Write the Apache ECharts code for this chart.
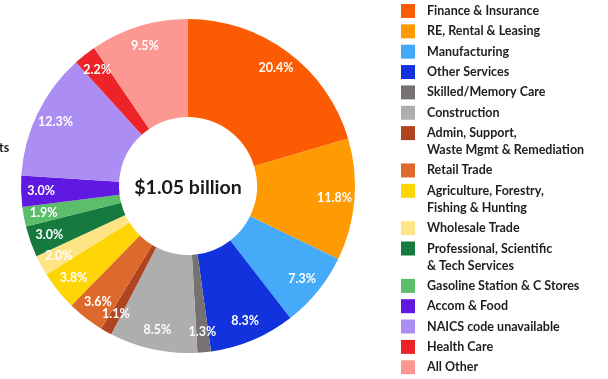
<!DOCTYPE html>
<html>
<head>
<meta charset="utf-8">
<script src="https://cdn.jsdelivr.net/npm/echarts@6/dist/echarts.min.js"></script>
<style>
  html, body { margin: 0; padding: 0; background: #ffffff; }
  #chart { width: 608px; height: 379px; }
</style>
</head>
<body>
<div id="chart"></div>
<script>
// Industry categories (legend order = slice order, clockwise from 12 o'clock)
const categories = [
  'Finance & Insurance',
  'RE, Rental & Leasing',
  'Manufacturing',
  'Other Services',
  'Skilled/Memory Care',
  'Construction',
  'Admin, Support,\nWaste Mgmt & Remediation',
  'Retail Trade',
  'Agriculture, Forestry,\nFishing & Hunting',
  'Wholesale Trade',
  'Professional, Scientific\n& Tech Services',
  'Gasoline Station & C Stores',
  'Accom & Food',
  'NAICS code unavailable',
  'Health Care',
  'All Other'
];

// Share of total, in percent
const shares = [20.4, 11.8, 7.3, 8.3, 1.3, 8.5, 1.1, 3.6, 3.8, 2.0, 3.0, 1.9, 3.0, 12.3, 2.2, 9.5];

const colors = [
  '#FB5B02', '#FE9A02', '#45AAF8', '#1232DE', '#767272', '#AEAEAE',
  '#AE4420', '#DD6A2C', '#FDD504', '#FEE484', '#16793E', '#5CBD6A',
  '#6019E0', '#AB8DF3', '#EC2327', '#FC9792'
];

const centerTitle = '$1.05 billion';

const FONT = 'Lato, "Open Sans", sans-serif';
const CX = 188, CY = 186;
const START = 90;

const pieData = categories.map((name, i) => ({
  name: name,
  value: shares[i],
  itemStyle: { color: colors[i] }
}));

const labelData = categories.map((name, i) => ({ name: name, value: shares[i] }));

// One legend block per category so that wrapped names keep the swatch on their first line.
// Legend text is centred on the swatch, so a wrapped name gets a blank line above it
// which puts its first line level with the swatch.
const LINE_H = 17;
const ROW_STEP = 20.35;
const legends = [];
let extraLines = 0;
categories.forEach((name, i) => {
  const lines = name.split('\n').length;
  const c = 11 + ROW_STEP * i + LINE_H * extraLines;
  const lift = (lines - 1) * LINE_H;
  legends.push({
    data: [{ name: name, icon: 'rect' }],
    orient: 'vertical',
    left: 401,
    top: c - 8.5 - lift,
    padding: 0,
    itemWidth: 14,
    itemHeight: 14,
    selectedMode: false,
    itemStyle: { borderWidth: 0 },
    formatter: n => (lines > 1 ? '\n'.repeat(lines - 1) : '') + n,
    textStyle: {
      fontFamily: FONT,
      fontWeight: 'bold',
      fontSize: 12.5,
      color: '#1e1e1e',
      lineHeight: LINE_H,
      padding: [0, 0, 0, 7]
    }
  });
  extraLines += lines - 1;
});

const chart = echarts.init(document.getElementById('chart'), null, { renderer: 'canvas' });

chart.setOption({
  animation: false,
  backgroundColor: '#ffffff',
  legend: legends,
  series: [
    {
      // donut ring
      type: 'pie',
      center: [CX, CY],
      radius: [69, 167],
      startAngle: START,
      clockwise: true,
      silent: true,
      itemStyle: { borderWidth: 0 },
      label: { show: false },
      labelLine: { show: false },
      emphasis: { disabled: true },
      data: pieData
    },
    {
      // percentage labels, placed in the outer part of the ring
      type: 'pie',
      center: [CX, CY],
      radius: [121, 167],
      startAngle: START,
      clockwise: true,
      silent: true,
      avoidLabelOverlap: false,
      itemStyle: { color: 'rgba(0,0,0,0)', borderWidth: 0 },
      label: {
        show: true,
        position: 'inner',
        align: 'center',
        verticalAlign: 'middle',
        color: '#ffffff',
        fontFamily: FONT,
        fontWeight: 'bold',
        fontSize: 12.5,
        formatter: p => p.value.toFixed(1) + '%'
      },
      // keep each label centred on the point the pie layout chose for it
      labelLayout: p => ({
        x: p.labelRect.x + p.labelRect.width / 2,
        y: p.labelRect.y + p.labelRect.height / 2,
        align: 'center',
        verticalAlign: 'middle'
      }),
      labelLine: { show: false },
      emphasis: { disabled: true },
      data: labelData
    }
  ],
  graphic: [
    {
      type: 'text',
      x: CX,
      y: CY + 2,
      style: {
        text: centerTitle,
        x: 0, y: 0,
        align: 'center',
        verticalAlign: 'middle',
        fontFamily: FONT,
        fontWeight: 'bold',
        fontSize: 19.5,
        fill: '#1a1a1a'
      }
    },
    {
      type: 'text',
      x: -1,
      y: 148,
      style: {
        text: 'ts',
        align: 'left',
        verticalAlign: 'middle',
        fontFamily: FONT,
        fontWeight: 'bold',
        fontSize: 12.5,
        fill: '#1e1e1e'
      }
    }
  ]
});
</script>
</body>
</html>
